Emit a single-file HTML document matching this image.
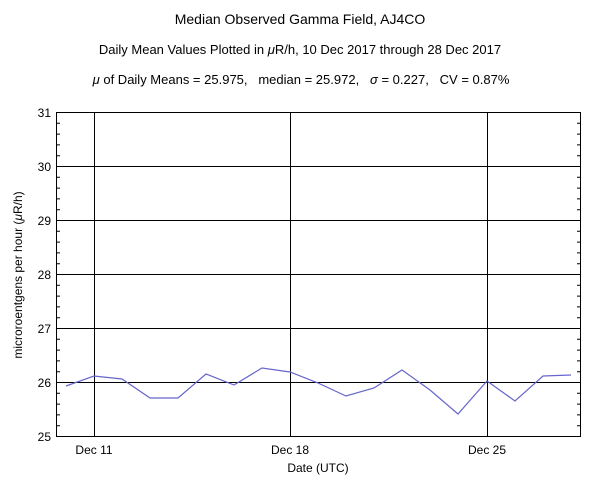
<!DOCTYPE html>
<html><head><style>body{margin:0;background:#fff}svg{display:block}text{font-family:"Liberation Sans",sans-serif;fill:#000;white-space:pre}</style></head><body>
<svg width="600" height="496" viewBox="0 0 600 496" xmlns="http://www.w3.org/2000/svg" xml:space="preserve">
<text x="300" y="24" font-size="14" text-anchor="middle">Median Observed Gamma Field, AJ4CO</text>
<text x="300" y="54" font-size="13" text-anchor="middle">Daily Mean Values Plotted in <tspan font-style="italic">μ</tspan>R/h, 10 Dec 2017 through 28 Dec 2017</text>
<text x="301" y="84" font-size="13" text-anchor="middle"><tspan font-style="italic">μ</tspan> of Daily Means = 25.975,&#160;&#160;&#160;median = 25.972,&#160;&#160;&#160;<tspan font-style="italic">σ</tspan> = 0.227,&#160;&#160;&#160;CV = 0.87%</text>
<g stroke="#000" stroke-width="1" fill="none">
<rect x="56.5" y="112.5" width="524" height="324"/>
<path d="M56 166.5H581M56 220.5H581M56 274.5H581M56 328.5H581M56 382.5H581M94.5 113V437M290.5 113V437M487.5 113V437"/>
</g>
<g stroke="#000" stroke-width="1" id="ticks"></g>
<polyline fill="none" stroke="#6666cc" stroke-width="1.2" points="66,386 94,376 122,379 150,398 178,398 206,374 234,385 262,368 290,372 318,383 346,396 374,388 402,370 430,390 458,414 487,381 515,401 543,376 571,375"/>
<g font-size="12" text-anchor="end">
<text x="51" y="117">31</text><text x="51" y="171">30</text><text x="51" y="225">29</text><text x="51" y="279">28</text><text x="51" y="333">27</text><text x="51" y="387">26</text><text x="51" y="441">25</text>
</g>
<g font-size="12" text-anchor="middle">
<text x="94" y="454">Dec 11</text><text x="290" y="454">Dec 18</text><text x="487" y="454">Dec 25</text>
<text x="318" y="472">Date (UTC)</text>
</g>
<text transform="translate(22,275) rotate(-90)" font-size="12" text-anchor="middle">microroentgens per hour (<tspan font-style="italic">μ</tspan>R/h)</text>
<script>
var g=document.getElementById('ticks'),d='';
for(var i=0;i<=30;i++){var y=112.5+i*10.8;d+='M56 '+y+'h4M581 '+y+'h-4';}
var p=document.createElementNS('http://www.w3.org/2000/svg','path');p.setAttribute('d',d);g.appendChild(p);
</script>
</svg>
</body></html>
